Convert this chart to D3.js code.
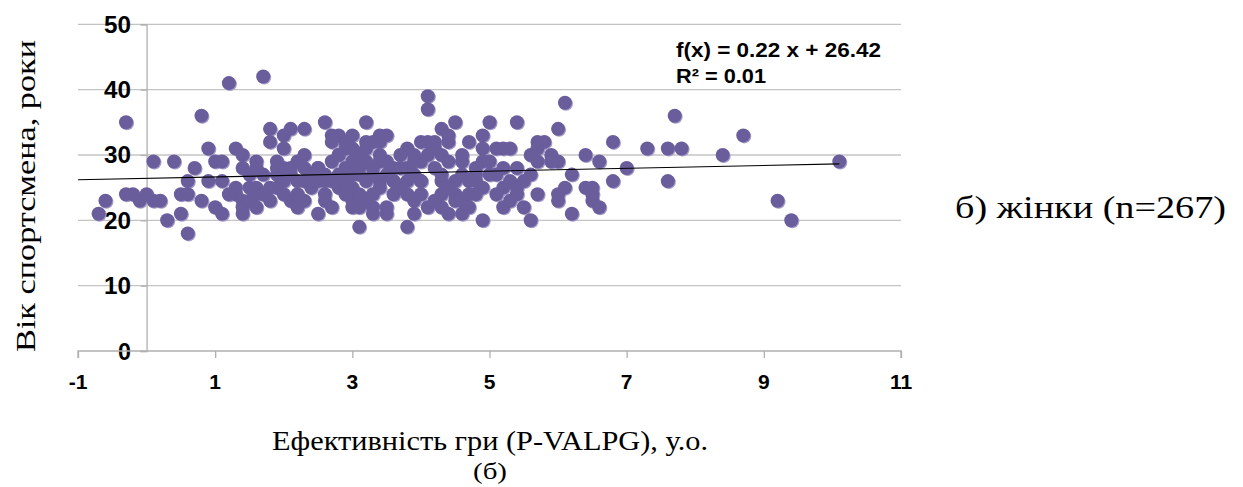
<!DOCTYPE html>
<html><head><meta charset="utf-8">
<script src="https://cdn.jsdelivr.net/npm/d3@7"></script>
<style>html,body{margin:0;padding:0;background:#fff;}svg{display:block;}
.serif{font-family:"Liberation Serif","Times New Roman",Times,serif;}
.sans{font-family:"Liberation Sans",Arial,Helvetica,sans-serif;}
</style>
</head><body>
<svg id="c" width="1243" height="487"></svg>
<script>
// P-VALPG values (x) and age (y)
const pointsX = [-0.7,-0.6,-0.3,-0.3,-0.2,-0.1,0,0.1,0.2,0.1,0.4,0.3,0.5,0.6,0.5,0.6,0.6,0.7,0.8,0.9,1.0,1.1,0.9,1.1,1.1,1.2,1.3,1.3,1.4,1.4,
1.7,1.8,1.8,2.0,2.1,2.0,2.3,2.6,3.2,1.9,2.2,2.7,3.0,2.7,3.5,3.4,3.3,3.2,3.1,3.5,3.8,4.0,
1.6,2.5,2.6,3.1,3.0,3.3,3.5,3.8,3.9,
1.4,1.6,1.6,2.3,2.5,2.8,2.9,3.2,3.4,2.9,2.8,3.0,3.3,3.4,1.3,1.4,1.5,1.6,1.8,1.4,1.9,2.0,2.1,2.3,2.3,2.4,2.8,3.0,3.1,3.2,3.3,3.4,3.5,2.1,2.4,1.9,1.7,2.7,2.1,
4.3,4.5,5.0,5.4,4.1,4.2,4.4,4.3,4.1,4.7,4.9,4.9,5.1,5.2,5.3,4.6,4.6,4.4,4.9,5.0,5.4,5.6,5.7,5.7,3.5,3.8,3.8,3.9,4.2,4.0,4.3,4.5,4.7,4.8,4.9,5.1,5.2,5.4,3.6,4.1,4.3,4.4,4.5,4.6,4.7,4.9,5.2,5.4,5.6,5.7,
4.5,4.8,4.3,5.5,6.0,6.0,6.1,6.4,6.5,6.6,6.2,9.2,9.4,
6.1,6.0,5.8,5.7,5.9,6.0,6.4,6.6,6.8,7.0,7.3,7.6,7.8,7.7,7.6,6.8,6.2,6.5,6.5,
4.1,4.1,8.7,8.4,10.1,
2.8,2.9,3.0,3.0,3.1,2.9,3.0,3.1,3.2,3.3,3.4,3.6,3.6,3.7,2.6,2.7,2.5,2.2,2.0,1.8,1.7,1.5,2.2,2.6,2.7,2.9,4.2,4.0,3.9,4.6,4.8,5.0,5.1,5.3,5.5,4.4,4.0,3.9,4.2,
1.5,2.4,2.6,3.1,3.3,3.7,4.3,4.6,5.3,2.2,2.0,1.6,3.6,3.9,4.7,5.2,1.2,1.0,0.8,2.5,3.4,3.7,4.8,5.6,5.9,2.8,3.2,4.4,1.9,2.3,3.8,4.0];
const pointsY = [21,23,35,24,24,23,24,23,23,29,29,20,21,18,24,24,26,28,36,31,29,29,26,26,21,41,31,24,28,21,
42,34,32,33,34,31,34,35,35,28,29,33,33,32,33,33,32,32,30,29,31,32,
22,21,24,19,22,21,21,19,21,
30,29,28,28,28,33,32,31,32,28,27,27,28,26,25,23,25,25,25,22,25,24,23,26,23,25,25,23,22,23,22,25,22,27,27,27,27,29,28,
34,35,35,35,32,32,33,30,30,32,33,31,31,31,31,30,29,29,29,29,28,30,32,29,27,28,26,27,28,26,26,26,26,26,25,27,25,25,24,22,24,21,24,21,22,20,22,24,20,24,
23,24,22,22,24,23,25,25,23,22,21,23,20,
38,34,32,31,30,29,30,29,32,28,31,31,31,36,26,26,27,25,24,
39,37,33,30,29,
30,31,31,29,28,26,25,24,26,27,29,28,26,25,27,26,26,26,26,23,24,23,24,23,22,24,31,29,30,27,28,27,24,26,26,25,24,23,23,
27,26,26,27,24,30,27,23,23,22,28,24,26,29,24,28,24,22,23,28,30,28,27,27,29,30,29,32,29,30,24,26];
const xTicks = [-1,1,3,5,7,9,11];
const yTicks = [0,10,20,30,40,50];
const slope = 0.22, intercept = 26.42, trendFrom = -1, trendTo = 10.1;
const eqText = "f(x) = 0.22 x + 26.42";
const r2Text = "R² = 0.01";
const xTitle = "Ефективність гри (P-VALPG), у.о.";
const subTitle = "(б)";
const yTitle = "Вік спортсмена, роки";
const sideLabel = "б) жінки (n=267)";

const svg = d3.select("#c");
const x = d3.scaleLinear().domain([-1, 11]).range([78, 901]);
const y = d3.scaleLinear().domain([0, 50]).range([351, 24.3]);

// grid
svg.append("g").selectAll("line").data(yTicks.filter(d => d > 0)).join("line")
  .attr("x1", x(-1)).attr("x2", x(11)).attr("y1", d => y(d)).attr("y2", d => y(d))
  .attr("stroke", "#c4c4c4").attr("stroke-width", 1.3);

// y axis at x=0
const yAxis = d3.axisLeft(y).tickValues(yTicks).tickSize(6).tickFormat("");
const gy = svg.append("g").attr("transform", `translate(${x(0)},0)`).call(yAxis);
gy.selectAll("path,line").attr("stroke", "#b0b0b0").attr("stroke-width", 1.3);
svg.append("g").attr("class", "sans").selectAll("text").data(yTicks).join("text")
  .attr("x", 131).attr("y", d => y(d) + 8.5)
  .attr("text-anchor", "end").attr("font-weight", "bold").attr("font-size", 24)
  .attr("textLength", d => String(d).length === 2 ? 27 : 13).attr("lengthAdjust", "spacingAndGlyphs")
  .attr("fill", "#000").text(d => d);

// x axis at y=0
const xAxis = d3.axisBottom(x).tickValues(xTicks).tickSize(7).tickFormat("");
const gx = svg.append("g").attr("transform", `translate(0,${y(0)})`).call(xAxis);
gx.selectAll("path,line").attr("stroke", "#b0b0b0").attr("stroke-width", 1.3);
gx.select("path").attr("d", `M${x(-1)},7V0H${x(11)}V7`);
svg.append("g").attr("class", "sans").selectAll("text").data(xTicks).join("text")
  .attr("x", d => x(d)).attr("y", 389)
  .attr("text-anchor", "middle").attr("font-weight", "bold").attr("font-size", 21)
  .attr("fill", "#000").text(d => d);

// points
const pts = pointsX.map((v, i) => [v, pointsY[i]]);
svg.append("g").selectAll("circle").data(pts).join("circle")
  .attr("cx", d => x(d[0]) + 1).attr("cy", d => y(d[1]) + 1).attr("r", 7)
  .attr("fill", "#a49bc8");
svg.append("g").selectAll("circle").data(pts).join("circle")
  .attr("cx", d => x(d[0])).attr("cy", d => y(d[1])).attr("r", 7)
  .attr("fill", "#6a5d9b");

// trend line
svg.append("line")
  .attr("x1", x(trendFrom)).attr("y1", y(slope * trendFrom + intercept))
  .attr("x2", x(trendTo)).attr("y2", y(slope * trendTo + intercept))
  .attr("stroke", "#000").attr("stroke-width", 1.1);

// equation
const eq = svg.append("g").attr("class", "sans")
  .attr("font-weight", "bold").attr("font-size", 20).attr("fill", "#000");
eq.append("text").attr("x", 676).attr("y", 57)
  .attr("textLength", 205).attr("lengthAdjust", "spacingAndGlyphs").text(eqText);
eq.append("text").attr("x", 676).attr("y", 83)
  .attr("textLength", 90).attr("lengthAdjust", "spacingAndGlyphs").text(r2Text);

// titles
svg.append("text").attr("class", "serif").attr("x", 490).attr("y", 450).attr("text-anchor", "middle")
  .attr("font-size", 27)
  .attr("textLength", 436).attr("lengthAdjust", "spacingAndGlyphs").text(xTitle);
svg.append("text").attr("class", "serif").attr("x", 490).attr("y", 479).attr("text-anchor", "middle")
  .attr("font-size", 24).attr("textLength", 34).attr("lengthAdjust", "spacingAndGlyphs").text(subTitle);
svg.append("text").attr("class", "serif").attr("transform", "translate(35,196) rotate(-90)").attr("text-anchor", "middle")
  .attr("font-size", 28)
  .attr("textLength", 312).attr("lengthAdjust", "spacingAndGlyphs").text(yTitle);
svg.append("text").attr("class", "serif").attr("x", 955).attr("y", 218)
  .attr("font-size", 32)
  .attr("textLength", 271).attr("lengthAdjust", "spacingAndGlyphs").text(sideLabel);
</script>
</body></html>
